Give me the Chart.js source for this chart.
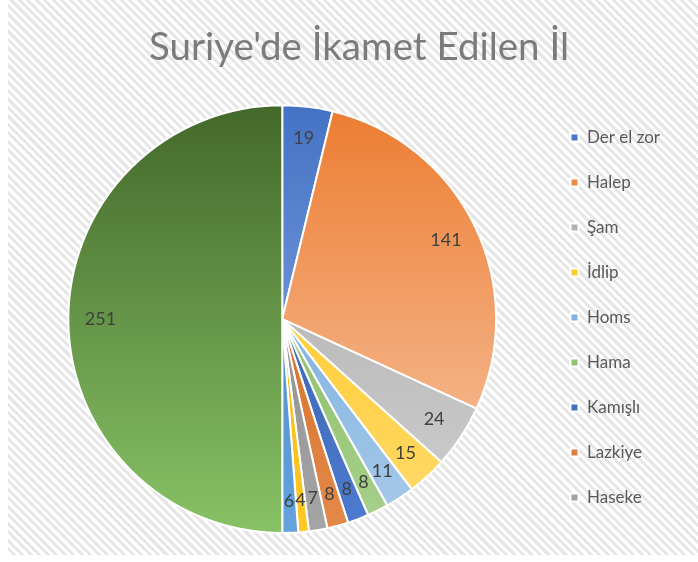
<!DOCTYPE html>
<html lang="tr">
<head>
    <meta charset="UTF-8">
    <title>Suriye'de İkamet Edilen İl</title>
    <script src="https://cdn.jsdelivr.net/npm/chart.js"></script>
</head>
<body>
<div id="wrap">
    <canvas id="pieChart"></canvas>
</div>
<script>
    const cities = ['Der el zor', 'Halep', 'Şam', 'İdlip', 'Homs', 'Hama', 'Kamışlı', 'Lazkiye', 'Haseke', 'Rakka', 'Dera', 'Diğer'];
    const counts = [19, 141, 24, 15, 11, 8, 8, 8, 7, 4, 6, 251];
    const legendCount = 9; // only 9 entries fit in the legend

    // top/bottom colours of each slice gradient
    const topColors = ['#4472c4', '#ec7c30', '#a5a5a5', '#ffc000', '#5b9bd5', '#70ad47', '#2f5597', '#c55a11', '#7f7f7f', '#e6ac00', '#3f7fc0', '#43682a'];
    const bottomColors = ['#8fb0e5', '#f8c8a8', '#d0d0d0', '#ffdb70', '#a9cbea', '#a9d18e', '#4d7bd0', '#e58a4a', '#a5a5a5', '#ffc825', '#64a3dc', '#88c266'];

    function sliceFill(ctx) {
        const i = ctx.dataIndex;
        const area = ctx.chart.chartArea;
        if (!area) return topColors[i];
        const g = ctx.chart.ctx.createLinearGradient(0, area.top, 0, area.bottom);
        g.addColorStop(0, topColors[i]);
        g.addColorStop(1, bottomColors[i]);
        return g;
    }

    const valueLabels = {
        id: 'valueLabels',
        afterDatasetsDraw(chart) {
            const c = chart.ctx;
            c.save();
            c.font = '18px Lato, "Open Sans", sans-serif';
            c.fillStyle = '#404040';
            c.textAlign = 'center';
            c.textBaseline = 'middle';
            chart.getDatasetMeta(0).data.forEach((arc, i) => {
                const mid = (arc.startAngle + arc.endAngle) / 2;
                const r = arc.outerRadius * 0.85;
                c.fillText(counts[i], arc.x + Math.cos(mid) * r, arc.y + Math.sin(mid) * r);
            });
            c.restore();
        }
    };

    // title sits a bit right of the pie in the original
    const titleShift = {
        id: 'titleShift',
        afterLayout(chart) {
            const t = chart.titleBlock;
            if (t) { t.left += 13; t.right += 13; }
        }
    };

    new Chart(document.getElementById('pieChart'), {
        type: 'pie',
        data: {
            labels: cities,
            datasets: [{
                data: counts,
                backgroundColor: sliceFill,
                borderColor: '#ffffff',
                borderWidth: 2
            }]
        },
        options: {
            responsive: true,
            maintainAspectRatio: false,
            animation: false,
            layout: {padding: {left: 14, right: 28, top: 0, bottom: 21}},
            plugins: {
                title: {
                    display: true,
                    text: "Suriye'de İkamet Edilen İl",
                    color: '#7b7b7b',
                    font: {family: 'Lato, "Open Sans", sans-serif', size: 38.5, weight: 'normal'},
                    padding: {top: 24, bottom: 34}
                },
                legend: {
                    position: 'right',
                    align: 'end',
                    labels: {
                        boxWidth: 8,
                        boxHeight: 8,
                        padding: 28,
                        color: '#595959',
                        font: {family: 'Lato, "Open Sans", sans-serif', size: 17},
                        filter: item => item.index < legendCount
                    }
                },
                tooltip: {enabled: false}
            }
        },
        plugins: [valueLabels, titleShift]
    });
</script>
</body>
</html>
<style>
    body {
        margin: 0;
        background: #ffffff;
    }

    #wrap {
        position: absolute;
        left: 8px;
        top: 0;
        width: 690px;
        height: 555px;
        background: repeating-linear-gradient(45deg, #ffffff 0px, #ffffff 3px, #e6e6e6 3px, #e6e6e6 6px);
    }
</style>
